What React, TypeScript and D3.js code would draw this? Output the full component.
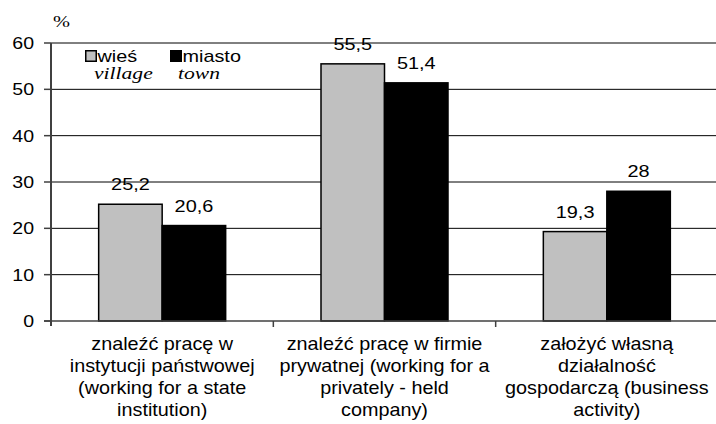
import React from "react";
import * as d3 from "d3";

const categories: string[][] = [
  ["znaleźć pracę w", "instytucji państwowej", "(working for a state", "institution)"],
  ["znaleźć pracę w firmie", "prywatnej (working for a", "privately - held", "company)"],
  ["założyć własną", "działalność", "gospodarczą (business", "activity)"],
];
const seriesNames = ["wieś", "miasto"];
const seriesNamesEn = ["village", "town"];
const village = [25.2, 55.5, 19.3];
const town = [20.6, 51.4, 28];
const yTicks = [0, 10, 20, 30, 40, 50, 60];

const W = 716;
const H = 424;
const left = 51;
const right = 718;
const top = 43;
const bottom = 321;
const colors = ["#c0c0c0", "#000000"];
const fmt = (v: number) => String(v).replace(".", ",");
const font = "Arial, 'Liberation Sans', sans-serif";
const serif = "'Times New Roman', 'Liberation Serif', serif";

function T(props: { x: number; y: number; anchor?: string; size?: number; family?: string; italic?: boolean; sx?: number; children: React.ReactNode }) {
  const { x, y, anchor = "start", size = 17, family = font, italic = false, sx = 1.17 } = props;
  return (
    <text transform={`translate(${x},${y}) scale(${sx},1)`} textAnchor={anchor} fontFamily={family}
      fontSize={size} fontStyle={italic ? "italic" : "normal"} fill="#000">
      {props.children}
    </text>
  );
}

export default function App() {
  const y = d3.scaleLinear().domain([0, 60]).range([bottom, top]);
  const x0 = d3.scaleBand<number>().domain([0, 1, 2]).range([left, right]).paddingInner(0).paddingOuter(0);
  const bw = 63.5;
  const series = [village, town];
  return (
    <svg width={W} height={H} style={{ position: "absolute", left: 0, top: 0, background: "#fff" }}>
      {yTicks.filter((t) => t > 0).map((t) => (
        <line key={t} x1={left} x2={W} y1={y(t)} y2={y(t)} stroke="#000" strokeWidth={1} />
      ))}
      {series.map((s, si) =>
        s.map((v, ci) => {
          const cx = x0(ci)! + x0.bandwidth() / 2;
          const bx = cx - bw + si * bw;
          return (
            <rect key={`${si}-${ci}`} x={bx} y={y(v)} width={bw} height={bottom - y(v)}
              fill={colors[si]} stroke="#000" strokeWidth={1.5} />
          );
        })
      )}
      {series.map((s, si) =>
        s.map((v, ci) => {
          const cx = x0(ci)! + x0.bandwidth() / 2;
          const lx = cx - bw / 2 + si * bw;
          return (
            <T key={`l${si}-${ci}`} x={lx} y={y(v) - 14} anchor="middle">{fmt(v)}</T>
          );
        })
      )}
      <line x1={left} x2={left} y1={top} y2={bottom + 5} stroke="#404040" strokeWidth={2} />
      {yTicks.map((t) => (
        <g key={`t${t}`}>
          <line x1={left - 7} x2={left} y1={y(t)} y2={y(t)} stroke="#404040" strokeWidth={1.5} />
          <T x={34} y={y(t) + 6} anchor="end" sx={1.15}>{t}</T>
        </g>
      ))}
      <line x1={left - 7} x2={W} y1={bottom} y2={bottom} stroke="#404040" strokeWidth={1.5} />
      {[1, 2].map((i) => (
        <line key={`xt${i}`} x1={x0(i)!} x2={x0(i)!} y1={bottom} y2={bottom + 6} stroke="#404040" strokeWidth={1.5} />
      ))}
      {categories.map((lines, ci) =>
        lines.map((ln, li) => (
          <T key={`c${ci}-${li}`} x={x0(ci)! + x0.bandwidth() / 2} y={350 + li * 22} anchor="middle" size={18} sx={1.1}>{ln}</T>
        ))
      )}
      <T x={53} y={27} family={serif} size={17} sx={1.2}>%</T>
      {seriesNames.map((n, i) => {
        const lx = 85 + i * 85;
        return (
          <g key={`lg${i}`}>
            <rect x={lx + 0.75} y={50.75} width={10.5} height={10.5} fill={colors[i]} stroke="#000" strokeWidth={1.5} />
            <T x={lx + 12.5} y={61.5} size={16} sx={1.24}>{n}</T>
            <T x={lx + 9 - i * 1} y={79} family={serif} italic size={17} sx={1.27}>{seriesNamesEn[i]}</T>
          </g>
        );
      })}
    </svg>
  );
}
